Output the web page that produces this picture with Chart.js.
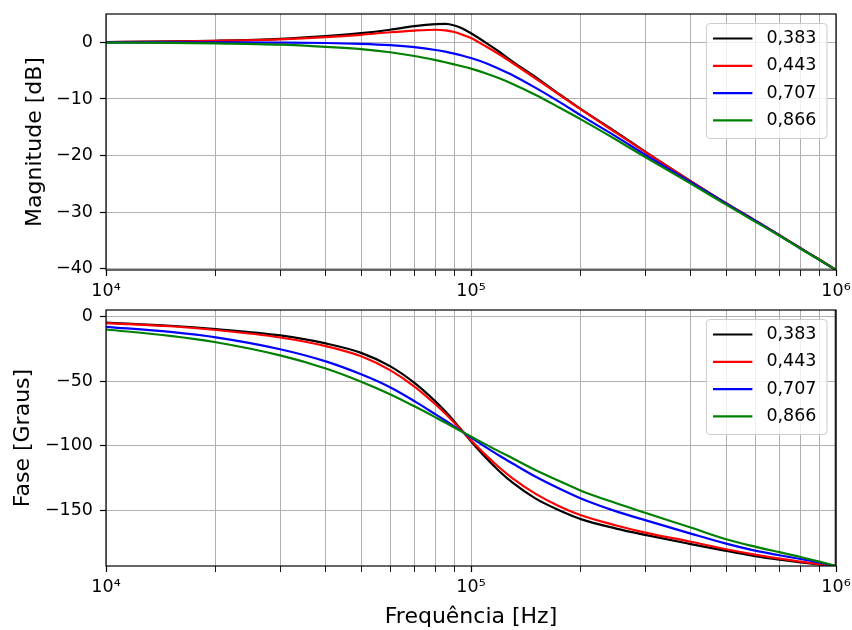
<!DOCTYPE html>
<html>
<head>
<meta charset="utf-8">
<title>Resposta em frequência</title>
<script src="https://cdn.jsdelivr.net/npm/chart.js@4.4.1/dist/chart.umd.min.js"></script>
<style>
  html, body { margin: 0; padding: 0; background: #ffffff; }
  #wrap { position: relative; width: 852px; height: 630px; }
  canvas { position: absolute; left: 0; }
  #magCanvas { top: 0; }
  #phaseCanvas { top: 300px; }
</style>
</head>
<body>
<div id="wrap">
  <canvas id="magCanvas" width="852" height="300"></canvas>
  <canvas id="phaseCanvas" width="852" height="330"></canvas>
</div>
<script>
// Frequency samples [Hz]
const freqHz = [1e4, 1.5e4, 2e4, 3e4, 4e4, 5e4, 6e4, 7e4, 8e4, 8.5e4, 9e4, 9.5e4,
                1e5, 1.1e5, 1.2e5, 1.3e5, 1.5e5, 1.75e5, 2e5, 2.5e5, 3e5,
                4e5, 5e5, 6e5, 7e5, 8e5, 9e5, 1e6];

// Damping factors (legend entries) and their colours
const seriesLabels = ['0,383', '0,443', '0,707', '0,866'];
const seriesColors = ['#000000', '#ff0000', '#0000ff', '#008000'];

// Magnitude [dB]
const magDb0383 = [0.05, 0.15, 0.28, 0.62, 1.1, 1.62, 2.22, 2.85, 3.2, 3.24, 2.98, 2.4,
                   1.6, -0.1, -1.75, -3.4, -6.1, -9.2, -11.8, -15.85, -19.3,
                   -24.5, -28.4, -31.45, -34.05, -36.35, -38.35, -40.2];
const magDb0443 = [0.04, 0.12, 0.25, 0.52, 0.9, 1.33, 1.78, 2.08, 2.22, 2.12, 1.82, 1.32,
                   0.75, -0.75, -2.2, -3.65, -6.35, -9.3, -11.85, -16.0, -19.35,
                   -24.55, -28.45, -31.45, -34.05, -36.35, -38.35, -40.2];
const magDb0707 = [0.0, 0.0, -0.01, -0.05, -0.12, -0.27, -0.5, -0.85, -1.35, -1.65, -2.0, -2.38,
                   -2.78, -3.7, -4.75, -5.8, -8.0, -10.55, -12.9, -16.65, -19.85,
                   -24.7, -28.5, -31.5, -34.1, -36.4, -38.4, -40.2];
const magDb0866 = [-0.05, -0.1, -0.2, -0.42, -0.8, -1.2, -1.75, -2.42, -3.15, -3.52, -3.9, -4.27,
                   -4.65, -5.5, -6.4, -7.35, -9.25, -11.55, -13.6, -17.2, -20.25,
                   -24.95, -28.65, -31.65, -34.15, -36.45, -38.4, -40.2];

// Phase [degrees]
const phaseDeg0383 = [-4.7, -7.2, -9.8, -14.7, -20.9, -28.2, -38.5, -51.5, -66.0, -73.5, -81.3, -89.2,
                      -96.7, -109.7, -120.3, -128.8, -140.9, -150.3, -157.0, -164.3, -169.2,
                      -176.3, -181.6, -185.6, -188.4, -190.5, -192.1, -193.3];
const phaseDeg0443 = [-5.1, -7.6, -10.5, -16.3, -23.0, -30.9, -41.6, -54.3, -68.2, -75.2, -82.3, -89.3,
                      -95.9, -107.6, -117.4, -125.4, -137.2, -147.2, -154.0, -161.9, -167.4,
                      -174.5, -180.3, -184.5, -187.6, -189.9, -191.8, -193.3];
const phaseDeg0707 = [-8.0, -12.0, -16.2, -25.4, -34.8, -44.8, -54.8, -65.6, -75.9, -80.6, -85.2, -89.6,
                      -93.8, -101.4, -108.1, -113.9, -124.0, -133.5, -141.0, -151.0, -157.8,
                      -168.2, -176.0, -181.4, -185.0, -187.9, -190.6, -193.3];
const phaseDeg0866 = [-10.1, -15.0, -20.0, -30.2, -40.3, -50.5, -60.2, -69.6, -78.2, -82.2, -86.0, -89.6,
                      -93.0, -99.3, -104.9, -109.8, -119.0, -127.6, -135.0, -144.7, -152.1,
                      -163.5, -172.6, -178.3, -182.6, -186.3, -189.9, -193.3];

// Last sample of each phase curve after wrapping back into (-180, 180]
const phaseWrappedEnd = [166.7, 166.7, 166.7, 166.7];

// Logarithmic axis: grid positions and decade labels
const freqGridTicks = [1e4, 2e4, 3e4, 4e4, 5e4, 6e4, 7e4, 8e4, 9e4,
                       1e5, 2e5, 3e5, 4e5, 5e5, 6e5, 7e5, 8e5, 9e5, 1e6];
const decadeTicks = [1e4, 1e5, 1e6];
const decadeLabels = ['10\u2074', '10\u2075', '10\u2076'];

// Value-axis ticks
const magTicksDb = [-40, -30, -20, -10, 0];
const phaseTicksDeg = [-150, -100, -50, 0];

const magSeries = [magDb0383, magDb0443, magDb0707, magDb0866];
const phaseSeries = [phaseDeg0383, phaseDeg0443, phaseDeg0707, phaseDeg0866];

Chart.defaults.font.family = '"DejaVu Sans", sans-serif';
Chart.defaults.color = '#000000';

const TICK_FONT = 17.5;
const LABEL_FONT = 22;
const PLOT_LEFT = 106;

const signed = (v) => (v < 0 ? '\u2212' + Math.abs(v) : String(v));

// Axes box drawn over the curves, then a framed legend in the upper-right corner
const frameAndLegend = {
  id: 'frameAndLegend',
  afterDatasetsDraw(chart) {
    const { ctx, chartArea: a } = chart;
    ctx.save();
    ctx.strokeStyle = '#000000';
    ctx.lineWidth = 1.2;
    ctx.strokeRect(a.left, a.top, a.right - a.left, a.bottom - a.top);

    const items = chart.data.datasets.filter((d) => d.label);
    ctx.font = TICK_FONT + 'px "DejaVu Sans"';
    const textW = Math.max(...items.map((d) => ctx.measureText(d.label).width));
    const padL = 6.6, handle = 39.4, gap = 14, padR = 10.5, rowH = 27.3, firstRow = 15;
    const w = padL + handle + gap + textW + padR;
    const h = 115;
    const x0 = a.right - 9 - w;
    const y0 = a.top + 9.5;
    const r = 3.5;
    ctx.beginPath();
    ctx.moveTo(x0 + r, y0);
    ctx.arcTo(x0 + w, y0, x0 + w, y0 + h, r);
    ctx.arcTo(x0 + w, y0 + h, x0, y0 + h, r);
    ctx.arcTo(x0, y0 + h, x0, y0, r);
    ctx.arcTo(x0, y0, x0 + w, y0, r);
    ctx.closePath();
    ctx.fillStyle = 'rgba(255,255,255,0.8)';
    ctx.fill();
    ctx.strokeStyle = '#cccccc';
    ctx.lineWidth = 1;
    ctx.stroke();

    ctx.textBaseline = 'middle';
    ctx.textAlign = 'left';
    items.forEach((d, i) => {
      const y = y0 + firstRow + i * rowH;
      ctx.beginPath();
      ctx.moveTo(x0 + padL, y);
      ctx.lineTo(x0 + padL + handle, y);
      ctx.strokeStyle = d.borderColor;
      ctx.lineWidth = 2.2;
      ctx.stroke();
      ctx.fillStyle = '#000000';
      ctx.fillText(d.label, x0 + padL + handle + gap, y);
    });
    ctx.restore();
  }
};

function curveDatasets(series, wrapEnd) {
  const sets = series.map((vals, i) => ({
    label: seriesLabels[i],
    data: freqHz.map((f, k) => ({ x: f, y: vals[k] })),
    borderColor: seriesColors[i],
    borderWidth: 2.2,
    pointRadius: 0,
    fill: false,
    cubicInterpolationMode: 'monotone',
    order: series.length - i
  }));
  if (wrapEnd) {
    series.forEach((vals, i) => {
      sets.push({
        data: [{ x: freqHz[freqHz.length - 1], y: vals[vals.length - 1] },
               { x: freqHz[freqHz.length - 1], y: wrapEnd[i] }],
        borderColor: seriesColors[i],
        borderWidth: 2.2,
        pointRadius: 0,
        fill: false,
        order: series.length - i
      });
    });
  }
  return sets;
}

function makeChart(canvasId, cfg) {
  const grid = {
    color: '#b0b0b0',
    lineWidth: 1,
    drawTicks: true,
    tickLength: 6,
    tickColor: '#000000',
    tickWidth: 1.2
  };
  return new Chart(document.getElementById(canvasId), {
    type: 'line',
    data: { datasets: curveDatasets(cfg.series, cfg.wrapEnd) },
    options: {
      responsive: false,
      maintainAspectRatio: false,
      devicePixelRatio: 1,
      animation: false,
      events: [],
      layout: { padding: { left: 0, right: 16, top: cfg.padTop, bottom: 0 } },
      plugins: { legend: { display: false }, tooltip: { enabled: false } },
      scales: {
        x: {
          type: 'logarithmic',
          min: 1e4,
          max: 1e6,
          afterBuildTicks: (axis) => { axis.ticks = freqGridTicks.map((v) => ({ value: v })); },
          afterFit: (axis) => { axis.height = cfg.xAxisHeight; axis.paddingLeft = 0; axis.paddingRight = 0; },
          ticks: {
            autoSkip: false, maxRotation: 0, minRotation: 0, padding: 5,
            font: { size: TICK_FONT }, color: '#000000',
            callback: (v) => { const i = decadeTicks.indexOf(v); return i >= 0 ? decadeLabels[i] : ''; }
          },
          grid: Object.assign({}, grid, {
            tickWidth: (c) => (decadeTicks.includes(c.tick && c.tick.value) ? 1.2 : 0.9)
          }),
          border: { display: false },
          title: cfg.xTitle
            ? { display: true, text: cfg.xTitle, font: { size: LABEL_FONT }, color: '#000000', padding: { top: 0, bottom: 0 } }
            : { display: false }
        },
        y: {
          min: cfg.yMin,
          max: cfg.yMax,
          afterBuildTicks: (axis) => { axis.ticks = cfg.yTicks.map((v) => ({ value: v })); },
          afterFit: (axis) => { axis.width = PLOT_LEFT; axis.paddingTop = 0; axis.paddingBottom = 0; },
          ticks: {
            padding: 7,
            font: { size: TICK_FONT }, color: '#000000',
            callback: (v) => signed(v)
          },
          grid: grid,
          border: { display: false },
          title: { display: true, text: cfg.yTitle, font: { size: LABEL_FONT }, color: '#000000', padding: { top: cfg.yTitlePad, bottom: 0 } }
        }
      }
    },
    plugins: [frameAndLegend]
  });
}

makeChart('magCanvas', {
  series: magSeries,
  padTop: 14,
  xAxisHeight: 30,
  yMin: -40.2, yMax: 5, yTicks: magTicksDb,
  yTitle: 'Magnitude [dB]',
  yTitlePad: 22
});

makeChart('phaseCanvas', {
  series: phaseSeries,
  wrapEnd: phaseWrappedEnd,
  padTop: 10,
  xAxisHeight: 64,
  yMin: -193.3, yMax: 5, yTicks: phaseTicksDeg,
  yTitle: 'Fase [Graus]',
  yTitlePad: 10,
  xTitle: 'Frequência [Hz]'
});
</script>
</body>
</html>
